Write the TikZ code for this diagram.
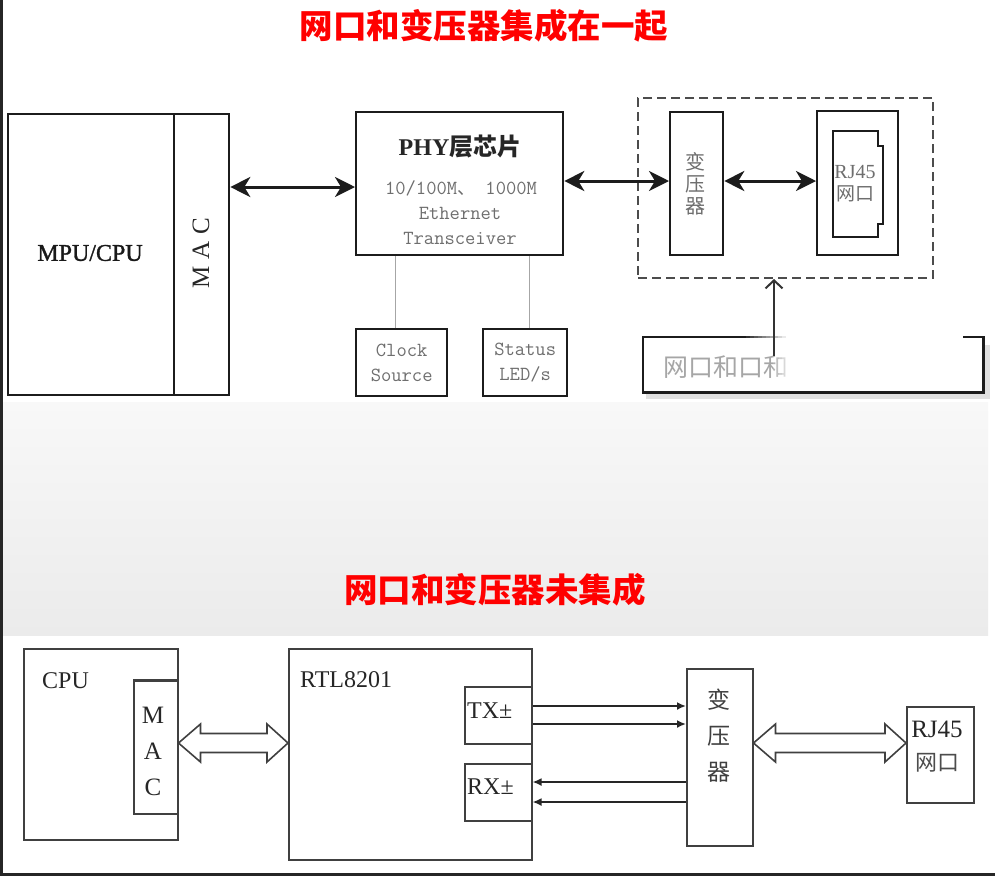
\documentclass[tikz,border=0pt]{standalone}
\usepackage{fontspec}
\setmainfont{Liberation Serif}
\newfontfamily\cjk{Noto Sans CJK SC}
\usetikzlibrary{arrows.meta,calc}
\newcommand\myfs[2]{\fontsize{#1}{#2}\selectfont}
\definecolor{boxline}{HTML}{1C1C1C}
\definecolor{bline}{HTML}{404040}
\definecolor{greytxt}{HTML}{6E6E6E}
\definecolor{bandtop}{HTML}{F8F8F8}
\definecolor{bandbot}{HTML}{EBEBEB}
\newcommand\hollowarrow[2]{%
  \draw[hollow] (#1) -- ($(#1)+(22,-19)$) -- ($(#1)+(22,-9.5)$) -- ($(#2)+(-21,-9.5)$)
    -- ($(#2)+(-21,-19)$) -- (#2) -- ($(#2)+(-21,19)$) -- ($(#2)+(-21,9.5)$)
    -- ($(#1)+(22,9.5)$) -- ($(#1)+(22,19)$) -- cycle;}
\begin{document}
\begin{tikzpicture}[x=1pt,y=-1pt,
  tbox/.style={draw=boxline,line width=2.3pt,inner sep=0pt,anchor=north west},
  bbox/.style={draw=bline,line width=1.5pt,inner sep=0pt,anchor=north west,fill=white},
  title/.style={text=red,inner sep=0pt,font=\cjk\bfseries\myfs{33.5pt}{35pt}},
  bigarr/.style={line width=3pt,draw=boxline,{Stealth[length=20pt,width=20pt,inset=6pt]}-{Stealth[length=20pt,width=20pt,inset=6pt]}},
  smallarr/.style={line width=2.2pt,draw=black!85,-{Latex[length=9pt,width=8pt]}},
  hollow/.style={draw=bline,line width=1.6pt,fill=white,line join=miter},
  gtxt/.style={text=greytxt,inner sep=0pt,align=center},
  ttxt/.style={text=greytxt,inner sep=0pt,font=\ttfamily\myfs{20pt}{25pt}},
  btxt/.style={text=black!85,inner sep=0pt,align=center},
  conn/.style={draw=black!35,line width=1.3pt}]
\useasboundingbox (0,0) rectangle (995,876);
\fill[white] (0,0) rectangle (995,876);
\shade[top color=bandtop,bottom color=bandbot] (3,402) rectangle (988,635);
\draw[line width=3pt,black!85] (1.5,0) -- (1.5,876);
\draw[line width=3pt,black!85] (0,874.5) -- (995,874.5);

% titles
\node[title] (t1) at (484,26) {网口和变压器集成在一起};
\node[title] (t2) at (495,590) {网口和变压器未集成};

% ---------- top diagram ----------
\node[tbox,minimum width=166pt,minimum height=281pt] (cpu) at (7,113) {};
\node[tbox,minimum width=55pt,minimum height=281pt] (mac) at (173,113) {};
\node[btxt,text=black!90,font=\myfs{24pt}{26pt}] (cpulbl) at (90,253) {\addfontfeature{FakeBold=1.2}MPU/CPU};
\node[btxt,rotate=90,font=\myfs{25pt}{26pt}] (maclbl) at (201,253) {M\hspace{7pt}A\hspace{7pt}C};

\node[tbox,minimum width=207pt,minimum height=143pt] (phy) at (355,111) {};
\node[btxt,font=\bfseries\myfs{24pt}{26pt}] (phyt) at (460,147) {PHY{\cjk 层芯片}};
\node[ttxt] (phy1) at (461,188) {10/100M{\cjk\myfs{18pt}{20pt}、} 1000M};
\node[ttxt] (phy2) at (460,213) {Ethernet};
\node[ttxt] (phy3) at (460,238) {Transceiver};

\node[tbox,minimum width=91pt,minimum height=67pt,align=center,text=greytxt,font=\ttfamily\myfs{20pt}{25pt}] (clk) at (355,328) {Clock\\Source};
\node[tbox,minimum width=84pt,minimum height=67pt,align=center,text=greytxt,font=\ttfamily\myfs{20pt}{25pt}] (led) at (482,328) {Status\\LED/s};
\path ($(clk.north)+(-6.5,0)$) coordinate (c1);
\path ($(led.north)+(4,0)$) coordinate (c2);
\draw[conn] (c1) -- (c1 |- phy.south);
\draw[conn] (c2) -- (c2 |- phy.south);

\node[draw=black!70,dash pattern=on 9pt off 5pt,line width=2pt,anchor=north west,
  minimum width=295pt,minimum height=180pt,inner sep=0pt] (dbox) at (637,97) {};
\node[tbox,minimum width=53pt,minimum height=143pt] (trf) at (669,111) {};
\node[gtxt,font=\cjk\myfs{20pt}{22pt}] (trft) at (695,184) {变\\压\\器};
\node[tbox,minimum width=81pt,minimum height=144pt] (rj) at (816,110) {};
\draw[line width=2pt,draw=boxline] (833,131) -- (878,131) -- (878,146) -- (883,146) -- (883,224)
  -- (878,224) -- (878,237) -- (833,237) -- cycle;
\node[gtxt,font=\myfs{20pt}{22pt}] (rjt1) at (855,172) {RJ45};
\node[gtxt,font=\cjk\myfs{19pt}{22pt}] (rjt2) at (855,194) {网口};

\coordinate (ya) at (0,187);
\coordinate (yb) at (0,181);
\draw[bigarr] (mac.east |- ya) -- (phy.west |- ya);
\draw[bigarr] (phy.east |- yb) -- (trf.west |- yb);
\draw[bigarr] (trf.east |- yb) -- (rj.west |- yb);

% label box below dashed box
\node[anchor=north west,minimum width=340pt,minimum height=55pt,inner sep=0pt] (lblbox) at (643,337) {};
\draw[black!12,line width=5pt] ($(lblbox.south west)+(3,4)$) -- ($(lblbox.south east)+(4,4)$) -- ($(lblbox.north east)+(4,8)$);
\draw[line width=2.6pt,draw=boxline] ($(lblbox.north west)+(150,0)$) -- (lblbox.north west) -- (lblbox.south west)
  -- (lblbox.south east) -- (lblbox.north east) -- ($(lblbox.north east)+(-20,0)$);
\node[anchor=west,text=black!35,inner sep=0pt,font=\cjk\myfs{25pt}{25pt}] (lbltxt) at (663,367) {网口和口和};
% faded-out part of the label
\foreach \i in {0,...,11} {
  \fill[white,opacity=\i/11] ({742+4*\i},331) rectangle ({746.2+4*\i},349);
}
\foreach \i in {0,...,7} {
  \fill[white,opacity=\i/7] ({770+3*\i},349) rectangle ({773.2+3*\i},387);
}
\fill[white] (790,331) rectangle (963,349);
\fill[white] (791,349) rectangle (963,387);
\coordinate (arrstart) at (774,356);
\draw[line width=2pt,draw=black!80,-{Straight Barb[length=8pt,width=17pt]}] (arrstart) -- (arrstart |- dbox.south);

% ---------- bottom diagram ----------
\node[bbox,minimum width=154pt,minimum height=191pt] (cpu2) at (23,648) {};
\node[bbox,minimum width=44pt,minimum height=133pt] (mac2) at (133,680) {};
\draw[line width=2.6pt,draw=bline] (mac2.north west) -- (mac2.north east);
\node[btxt,anchor=west,font=\myfs{24pt}{26pt}] (cpu2t) at (42,681) {CPU};
\node[btxt,font=\myfs{25pt}{36pt}] (mac2t) at (153,751) {M\\A\\C};

\node[bbox,minimum width=243pt,minimum height=211pt] (rtl) at (288,648) {};
\node[btxt,anchor=west,font=\myfs{24pt}{26pt}] (rtlt) at (300,680) {RTL8201};
\node[bbox,minimum width=67pt,minimum height=57pt] (tx) at (464,686) {};
\node[bbox,minimum width=67pt,minimum height=57pt] (rx) at (464,763) {};
\node[btxt,anchor=west,font=\myfs{24pt}{26pt}] (txt) at (467,711) {TX±};
\node[btxt,anchor=west,font=\myfs{24pt}{26pt}] (rxt) at (467,787) {RX±};

\node[bbox,minimum width=66pt,minimum height=177pt] (trf2) at (686,668) {};
\node[btxt,text=black!75,font=\cjk\myfs{23pt}{36pt}] (trf2t) at (719,736) {变\\压\\器};
\node[bbox,line width=2pt,minimum width=67pt,minimum height=96pt] (rj2) at (906,706) {};
\node[btxt,anchor=north,font=\myfs{25pt}{25pt}] (rj2t1) at (937,721) {RJ45};
\node[btxt,text=black!70,font=\cjk\myfs{22pt}{25pt}] (rj2t2) at (937,763) {网口};

\coordinate (y1) at (0,706);
\coordinate (y2) at (0,724);
\coordinate (y3) at (0,782);
\coordinate (y4) at (0,802);
\draw[smallarr] (tx.east |- y1) -- (trf2.west |- y1);
\draw[smallarr] (tx.east |- y2) -- (trf2.west |- y2);
\draw[smallarr] (trf2.west |- y3) -- (rx.east |- y3);
\draw[smallarr] (trf2.west |- y4) -- (rx.east |- y4);

\coordinate (yh) at (0,743);
\coordinate (h1) at (mac2.east |- yh);
\coordinate (h2) at (rtl.west |- yh);
\coordinate (h3) at (trf2.east |- yh);
\coordinate (h4) at (rj2.west |- yh);
\hollowarrow{h1}{h2}
\hollowarrow{h3}{h4}
\end{tikzpicture}
\end{document}
